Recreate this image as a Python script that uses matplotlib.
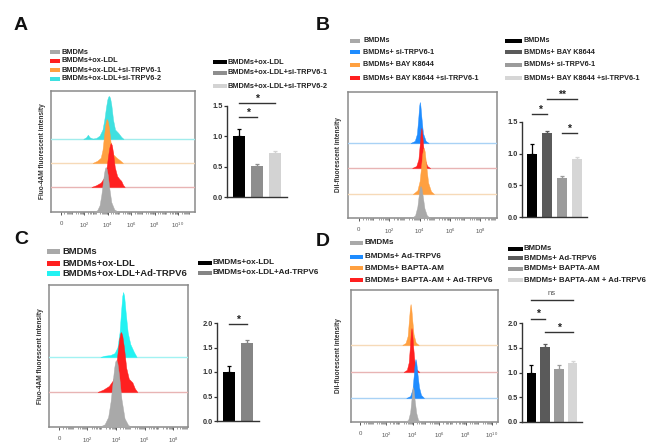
import numpy as np
import matplotlib
matplotlib.use('Agg')
import matplotlib.pyplot as plt
from matplotlib.patches import Rectangle

plt.rcParams['font.family'] = ['Liberation Sans', 'DejaVu Sans']
plt.rcParams['mathtext.fontset'] = 'custom'
plt.rcParams['mathtext.rm'] = 'Liberation Sans'

# ---- histogram data: (log10 intensity, % of max) ----
# panel A
a_bmdm = [(2.8, 0), (3.1, 4), (3.3, 15), (3.45, 38), (3.58, 66), (3.68, 86), (3.76, 97),
          (3.82, 100), (3.9, 96), (4.0, 82), (4.12, 55), (4.3, 22), (4.55, 6), (4.9, 0)]
a_oxldl = [(2.6, 0), (3.0, 4), (3.4, 10), (3.7, 22), (3.9, 45), (4.02, 70), (4.12, 88),
           (4.2, 97), (4.27, 100), (4.35, 95), (4.45, 78), (4.6, 45), (4.8, 25), (5.0, 18),
           (5.15, 14), (5.3, 5), (5.45, 0)]
a_si1 = [(2.7, 0), (3.1, 5), (3.4, 12), (3.55, 30), (3.68, 62), (3.78, 86), (3.86, 97),
         (3.93, 100), (4.0, 95), (4.1, 80), (4.25, 45), (4.45, 20), (4.75, 12), (5.05, 6),
         (5.3, 0)]
a_si2 = [(1.9, 0), (2.15, 4), (2.3, 10), (2.45, 4), (2.7, 1), (3.0, 2), (3.3, 8), (3.55, 22),
         (3.72, 48), (3.85, 74), (3.96, 92), (4.05, 99), (4.12, 100), (4.2, 95), (4.3, 80),
         (4.45, 45), (4.62, 22), (4.9, 14), (5.15, 5), (5.35, 0)]
# panel B
b_bmdm = [(3.45, 0), (3.7, 8), (3.85, 35), (3.95, 75), (4.01, 95), (4.06, 100), (4.12, 94),
          (4.2, 70), (4.32, 30), (4.48, 8), (4.7, 0)]
b_bay = [(3.55, 0), (3.85, 8), (4.0, 28), (4.1, 60), (4.18, 88), (4.24, 99), (4.28, 100),
         (4.34, 92), (4.44, 60), (4.56, 25), (4.75, 6), (4.95, 0)]
b_bay_si = [(3.5, 0), (3.78, 5), (3.92, 22), (4.01, 60), (4.07, 90), (4.11, 100), (4.15, 92),
            (4.22, 62), (4.32, 24), (4.5, 5), (4.7, 0)]
b_si = [(3.4, 0), (3.68, 5), (3.82, 22), (3.91, 60), (3.97, 90), (4.01, 100), (4.05, 92),
        (4.12, 62), (4.22, 24), (4.4, 5), (4.6, 0)]
# panel C
c_bmdm = [(2.8, 0), (3.2, 4), (3.45, 15), (3.62, 38), (3.76, 66), (3.87, 88), (3.95, 98),
          (4.02, 100), (4.1, 95), (4.22, 76), (4.38, 42), (4.6, 13), (4.85, 3), (5.1, 0)]
c_oxldl = [(2.7, 0), (3.1, 4), (3.5, 10), (3.8, 20), (4.0, 42), (4.12, 68), (4.22, 88),
           (4.3, 98), (4.36, 100), (4.44, 94), (4.56, 74), (4.72, 40), (4.9, 22), (5.15, 16),
           (5.32, 6), (5.5, 0)]
c_ad = [(2.9, 0), (3.2, 2), (3.6, 3), (3.9, 6), (4.1, 15), (4.25, 38), (4.36, 72), (4.44, 94),
        (4.5, 100), (4.57, 94), (4.68, 68), (4.82, 38), (5.0, 20), (5.25, 8), (5.45, 0)]
# panel D
d_bmdm = [(3.4, 0), (3.65, 6), (3.8, 28), (3.9, 66), (3.96, 92), (4.01, 100), (4.06, 92),
          (4.14, 62), (4.26, 26), (4.4, 6), (4.6, 0)]
d_ad = [(3.5, 0), (3.8, 5), (3.97, 22), (4.07, 58), (4.14, 88), (4.2, 100), (4.26, 92),
        (4.35, 62), (4.47, 28), (4.62, 8), (4.85, 0)]
d_bapta_ad = [(3.3, 0), (3.55, 5), (3.69, 22), (3.79, 62), (3.85, 90), (3.9, 100), (3.95, 91),
              (4.02, 60), (4.12, 26), (4.28, 6), (4.5, 0)]
d_bapta = [(3.2, 0), (3.45, 5), (3.61, 22), (3.71, 62), (3.78, 90), (3.83, 100), (3.88, 91),
           (3.96, 60), (4.06, 26), (4.22, 6), (4.45, 0)]

# ---- legend labels ----
a_hist_labels = ['BMDMs', 'BMDMs+ox-LDL', 'BMDMs+ox-LDL+si-TRPV6-1', 'BMDMs+ox-LDL+si-TRPV6-2']
b_hist_labels = ['BMDMs', 'BMDMs+ si-TRPV6-1', 'BMDMs+ BAY K8644', 'BMDMs+ BAY K8644 +si-TRPV6-1']
c_hist_labels = ['BMDMs', 'BMDMs+ox-LDL', 'BMDMs+ox-LDL+Ad-TRPV6']
d_hist_labels = ['BMDMs', 'BMDMs+ Ad-TRPV6', 'BMDMs+ BAPTA-AM', 'BMDMs+ BAPTA-AM + Ad-TRPV6']

# ---- bar data (relative intensity, mean and SD) ----
a_bar_labels = ['BMDMs+ox-LDL', 'BMDMs+ox-LDL+si-TRPV6-1', 'BMDMs+ox-LDL+si-TRPV6-2']
a_bar_mean = [1.0, 0.51, 0.72]
a_bar_err = [0.12, 0.03, 0.04]
a_sig = [(0, 1, 1.32, '*'), (0, 2, 1.55, '*')]

b_bar_labels = ['BMDMs', 'BMDMs+ BAY K8644', 'BMDMs+ si-TRPV6-1', 'BMDMs+ BAY K8644 +si-TRPV6-1']
b_bar_mean = [1.0, 1.33, 0.61, 0.92]
b_bar_err = [0.15, 0.03, 0.04, 0.03]
b_sig = [(0, 1, 1.62, '*'), (1, 3, 1.86, '**'), (2, 3, 1.32, '*')]

c_bar_labels = ['BMDMs+ox-LDL', 'BMDMs+ox-LDL+Ad-TRPV6']
c_bar_mean = [1.0, 1.6]
c_bar_err = [0.12, 0.05]
c_sig = [(0, 1, 1.98, '*')]

d_bar_labels = ['BMDMs', 'BMDMs+ Ad-TRPV6', 'BMDMs+ BAPTA-AM', 'BMDMs+ BAPTA-AM + Ad-TRPV6']
d_bar_mean = [1.0, 1.52, 1.08, 1.2]
d_bar_err = [0.15, 0.06, 0.07, 0.03]
d_sig = [(0, 1, 2.09, '*'), (1, 3, 1.82, '*'), (0, 3, 2.46, 'ns')]

# colours
GREY, RED, ORANGE, CYAN, BLUE = '#a9a9a9', '#ff2020', '#ffa040', '#3fe0e0', '#1e8cff'
CYAN_C = '#22f2f2'
LIGHT = {GREY: '#a9a9a9', RED: '#e8b4b4', ORANGE: '#f6dab8', CYAN: '#a2ecec',
         CYAN_C: '#a2f2f2', BLUE: '#a9d2f5'}
BAR4 = ['#000000', '#5a5a5a', '#9b9b9b', '#d6d6d6']
BAR3 = ['#000000', '#8e8e8e', '#d3d3d3']
BAR2 = ['#000000', '#858585']

W, H = 661, 447
fig = plt.figure(figsize=(W / 100, H / 100), dpi=100)


def px_ax(x0, y0, x1, y1):
    return fig.add_axes([x0 / W, 1 - y1 / H, (x1 - x0) / W, (y1 - y0) / H])


def hist_panel(box, curves, colors, offsets, heights, xlim, decades, ylab, lab_x):
    ax = px_ax(*box)
    h_px = box[3] - box[1]
    n = len(curves)
    for i, (cur, col, off, hh) in enumerate(zip(curves, colors, offsets, heights)):
        xs = [p[0] for p in cur]
        ys = np.array([p[1] for p in cur]) / 100.0 * hh + off
        z = 10 + 2 * (n - i)
        if off > 0:
            ax.axhline(off, color=LIGHT[col], lw=1.0, zorder=z - 1)
        ax.fill_between(xs, off, ys, color=col, lw=0.3, edgecolor=col, zorder=z)
    ax.set_xlim(*xlim)
    ax.set_ylim(0, h_px)
    ax.set_yticks([])
    majors = list(range(0, decades + 1, 2))
    ax.set_xticks(majors)
    ax.set_xticklabels(['0'] + ['$10^{%d}$' % m for m in majors[1:]], fontsize=4.3,
                       color='#555555')
    minors = [d + np.log10(k) for d in range(0, decades + 1) for k in range(2, 10)]
    minors = [m for m in minors if m < xlim[1]]
    ax.set_xticks(minors, minor=True)
    ax.tick_params(axis='x', which='major', length=2.5, width=0.7, color='#555555', pad=4)
    ax.tick_params(axis='x', which='minor', length=1.3, width=0.5, color='#777777')
    for s in ax.spines.values():
        s.set_color('#8a8a8a')
        s.set_linewidth(1.1)
    fig.text(lab_x / W, 1 - (box[1] + box[3]) / 2 / H, ylab, rotation=90, fontsize=4.7,
             fontweight='bold', ha='center', va='center', color='#333333')
    return ax


def bar_panel(box, means, errs, colors, top, sig):
    ax = px_ax(*box)
    x = np.arange(len(means))
    ax.bar(x, means, width=0.67, color=colors, zorder=2)
    for xi, m, e, c in zip(x, means, errs, colors):
        ax.errorbar(xi, m, yerr=[[0], [e]], fmt='none', ecolor=c, elinewidth=0.9,
                    capsize=1.6, capthick=0.9, zorder=1)
    ax.set_xlim(-0.67, len(means) - 1 + 0.67)
    ax.set_ylim(0, top)
    ax.set_xticks([])
    ticks = np.arange(0, top + 0.01, 0.5)
    ax.set_yticks(ticks)
    ax.set_yticklabels(['%.1f' % t for t in ticks], fontsize=5.3, fontweight='bold',
                       color='#333333')
    ax.tick_params(axis='y', length=2, width=0.9, pad=1, color='#333333')
    for s in ['top', 'right']:
        ax.spines[s].set_visible(False)
    for s in ['left', 'bottom']:
        ax.spines[s].set_linewidth(1.0)
        ax.spines[s].set_color('#333333')
    for i, j, hgt, txt in sig:
        ax.plot([i, j], [hgt, hgt], color='#333333', lw=1.0, clip_on=False)
        if txt == 'ns':
            ax.annotate(txt, ((i + j) / 2, hgt), xytext=(0, 2.5), textcoords='offset points',
                        ha='center', va='bottom', fontsize=5.5, color='#555555',
                        annotation_clip=False)
        else:
            ax.annotate(txt, ((i + j) / 2, hgt), xytext=(0, -0.5), textcoords='offset points',
                        ha='center', va='bottom', fontsize=7.5, fontweight='bold',
                        color='#222222', annotation_clip=False)
    return ax


def legend(x_patch, pw, ph, text_x, rows, labels, colors, fs):
    for y, lab, c in zip(rows, labels, colors):
        fig.patches.append(Rectangle((x_patch / W, 1 - (y + ph / 2) / H), pw / W, ph / H,
                                     transform=fig.transFigure, color=c, lw=0))
        fig.text(text_x / W, 1 - y / H, lab, fontsize=fs, fontweight='bold', ha='left',
                 va='center', color='#222222')


# ---------------- panel A ----------------
hist_panel((51, 91, 195, 212), [a_bmdm, a_oxldl, a_si1, a_si2], [GREY, RED, ORANGE, CYAN],
           [0, 25, 49, 73], [45, 44, 44, 43], (-0.85, 11.45), 10,
           'Fluo-4AM fluorescent intensity', 42)
legend(50, 10, 4.5, 62, [52, 61, 70, 79], a_hist_labels, [GREY, RED, ORANGE, CYAN], 5.3)
bar_panel((227, 106, 287, 197), a_bar_mean, a_bar_err, BAR3, 1.5, a_sig)
legend(213, 14, 4.5, 228, [62, 73, 86], a_bar_labels, BAR3, 5.3)

# ---------------- panel B ----------------
hist_panel((348, 92, 497, 218), [b_bmdm, b_bay, b_bay_si, b_si], [GREY, ORANGE, RED, BLUE],
           [0, 24, 50, 75], [32, 46, 40, 41], (-0.72, 9.1), 8,
           'Dil-fluorescent intensity', 338)
legend(350, 10, 4.5, 363, [41, 52, 65, 78], b_hist_labels, [GREY, BLUE, ORANGE, RED], 5.2)
bar_panel((522, 122, 587, 217), b_bar_mean, b_bar_err, BAR4, 1.5, b_sig)
legend(505, 17, 4.5, 524, [41, 52, 65, 78], b_bar_labels, BAR4, 5.2)

# ---------------- panel C ----------------
hist_panel((49, 285, 188, 427), [c_bmdm, c_oxldl, c_ad], [GREY, RED, CYAN_C],
           [0, 35, 70], [67, 60, 65], (-0.7, 9.05), 8,
           'Fluo-4AM fluorescent intensity', 41)
legend(47, 13, 5, 62, [251, 263, 273], c_hist_labels, [GREY, RED, CYAN_C], 6.8)
bar_panel((217, 323, 259, 421), c_bar_mean, c_bar_err, BAR2, 2.0, c_sig)
legend(198, 14, 4.5, 212, [263, 273], c_bar_labels, BAR2, 5.9)

# ---------------- panel D ----------------
hist_panel((351, 290, 498, 422), [d_bmdm, d_ad, d_bapta_ad, d_bapta], [GREY, BLUE, RED, ORANGE],
           [0, 24, 50, 77], [35, 39, 44, 41], (-0.68, 10.45), 10,
           'Dil-fluorescent intensity', 338)
legend(350, 13, 4.5, 365, [243, 257, 268, 280], d_hist_labels, [GREY, BLUE, ORANGE, RED], 5.9)
bar_panel((522, 323, 582, 422), d_bar_mean, d_bar_err, BAR4, 2.0, d_sig)
legend(508, 15, 4.5, 524, [249, 258, 269, 280], d_bar_labels, BAR4, 5.6)

# panel letters
for letter, (lx, ly) in zip('ABCD', [(21, 25), (323, 25), (21, 240), (323, 241)]):
    fig.text(lx / W, 1 - ly / H, letter, fontsize=14, fontweight='bold', ha='center',
             va='center', color='#111111')

fig.savefig('out.png', dpi=100)
